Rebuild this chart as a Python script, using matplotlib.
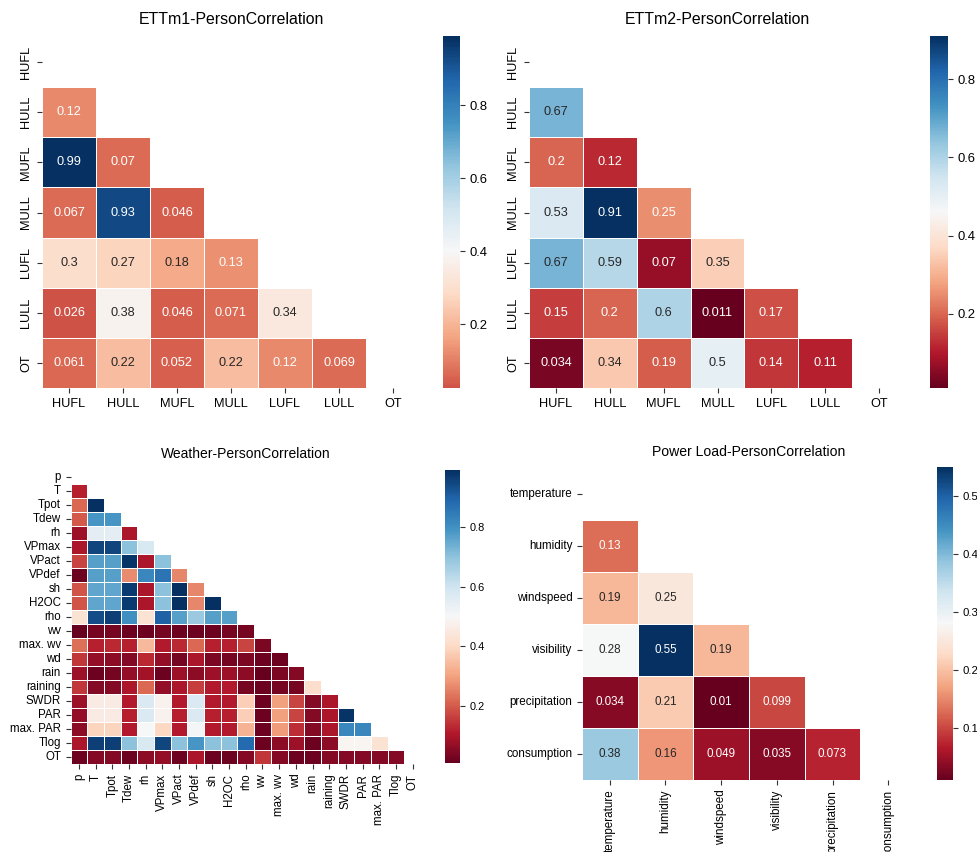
import numpy as np
import matplotlib
matplotlib.use("Agg")
import matplotlib.pyplot as plt
from matplotlib.ticker import MultipleLocator
import seaborn as sns

plt.rcParams['font.family'] = ['Liberation Sans', 'DejaVu Sans']

# ---------------- data (lower triangles of |Pearson r|) ----------------
ett_labels = ["HUFL", "HULL", "MUFL", "MULL", "LUFL", "LULL", "OT"]

ettm1_rows = [
    [0.12],
    [0.99, 0.07],
    [0.067, 0.93, 0.046],
    [0.3, 0.27, 0.18, 0.13],
    [0.026, 0.38, 0.046, 0.071, 0.34],
    [0.061, 0.22, 0.052, 0.22, 0.12, 0.069],
]

ettm2_rows = [
    [0.67],
    [0.2, 0.12],
    [0.53, 0.91, 0.25],
    [0.67, 0.59, 0.07, 0.35],
    [0.15, 0.2, 0.6, 0.011, 0.17],
    [0.034, 0.34, 0.19, 0.5, 0.14, 0.11],
]

weather_labels = ["p", "T", "Tpot", "Tdew", "rh", "VPmax", "VPact", "VPdef",
                  "sh", "H2OC", "rho", "wv", "max. wv", "wd", "rain", "raining",
                  "SWDR", "PAR", "max. PAR", "Tlog", "OT"]

weather_rows = [
    [0.12],
    [0.22, 0.99],
    [0.20, 0.79, 0.79],
    [0.08, 0.55, 0.55, 0.10],
    [0.10, 0.95, 0.95, 0.70, 0.58],
    [0.17, 0.77, 0.77, 0.98, 0.10, 0.70],
    [0.02, 0.77, 0.77, 0.27, 0.82, 0.86, 0.26],
    [0.19, 0.76, 0.76, 0.97, 0.10, 0.70, 0.99, 0.26],
    [0.19, 0.76, 0.76, 0.97, 0.10, 0.70, 0.99, 0.26, 0.99],
    [0.43, 0.94, 0.96, 0.80, 0.43, 0.90, 0.77, 0.68, 0.77, 0.77],
    [0.01, 0.03, 0.03, 0.02, 0.02, 0.03, 0.02, 0.02, 0.02, 0.03, 0.03],
    [0.23, 0.12, 0.13, 0.12, 0.34, 0.11, 0.13, 0.22, 0.12, 0.12, 0.17, 0.04],
    [0.15, 0.07, 0.06, 0.05, 0.13, 0.07, 0.03, 0.10, 0.04, 0.03, 0.04, 0.02, 0.02],
    [0.08, 0.02, 0.03, 0.07, 0.09, 0.02, 0.08, 0.06, 0.08, 0.08, 0.06, 0.01, 0.04, 0.05],
    [0.15, 0.05, 0.05, 0.10, 0.22, 0.07, 0.10, 0.16, 0.11, 0.11, 0.03, 0.02, 0.03, 0.03, 0.41],
    [0.08, 0.46, 0.46, 0.11, 0.57, 0.48, 0.11, 0.57, 0.11, 0.11, 0.38, 0.02, 0.30, 0.17, 0.05, 0.10],
    [0.07, 0.46, 0.46, 0.12, 0.57, 0.48, 0.12, 0.57, 0.12, 0.12, 0.38, 0.02, 0.30, 0.17, 0.05, 0.10, 0.98],
    [0.06, 0.39, 0.39, 0.11, 0.50, 0.40, 0.11, 0.51, 0.11, 0.11, 0.33, 0.02, 0.29, 0.14, 0.05, 0.10, 0.82, 0.82],
    [0.10, 0.96, 0.96, 0.70, 0.58, 0.95, 0.70, 0.79, 0.70, 0.70, 0.88, 0.02, 0.06, 0.08, 0.02, 0.06, 0.49, 0.49, 0.43],
    [0.02, 0.05, 0.05, 0.02, 0.06, 0.07, 0.02, 0.10, 0.02, 0.02, 0.05, 0.15, 0.05, 0.02, 0.02, 0.05, 0.05, 0.05, 0.05, 0.05],
]

load_labels = ["temperature", "humidity", "windspeed", "visibility",
               "precipitation", "consumption"]

load_rows = [
    [0.13],
    [0.19, 0.25],
    [0.28, 0.55, 0.19],
    [0.034, 0.21, 0.01, 0.099],
    [0.38, 0.16, 0.049, 0.035, 0.073],
]


def full_matrix(rows, n):
    m = np.zeros((n, n))
    for i, r in enumerate(rows, start=1):
        m[i, :i] = r
    m = m + m.T
    np.fill_diagonal(m, 1.0)
    return m


def draw(fig, ax_rect, cb_rect, rows, labels, title, center=None, annot=True,
         fs_tick=9.2, fs_title=11.4, fs_cb=9.4, ylab_rot=0, xlab_rot=0,
         cb_step=0.2):
    n = len(labels)
    corr = full_matrix(rows, n)
    mask = np.triu(np.ones_like(corr, dtype=bool))
    ax = fig.add_axes(ax_rect)
    cax = fig.add_axes(cb_rect)
    sns.heatmap(corr, mask=mask, cmap="RdBu", center=center, annot=annot,
                fmt=".2g", annot_kws={"size": fs_tick},
                linewidths=0.5, linecolor="white",
                xticklabels=labels, yticklabels=labels,
                ax=ax, cbar_ax=cax)
    ax.set_xticklabels(labels, rotation=xlab_rot, fontsize=fs_tick)
    ax.set_yticklabels(labels, rotation=ylab_rot, fontsize=fs_tick, va="center")
    ax.tick_params(axis="both", length=3.5, width=0.8, color="#333333")
    ax.set_title(title, fontsize=fs_title, pad=9)
    cax.yaxis.set_major_locator(MultipleLocator(cb_step))
    cax.tick_params(labelsize=fs_cb, length=3.5, width=0.8, color="#333333")
    return ax


W, H = 978, 852
fig = plt.figure(figsize=(W / 100, H / 100), dpi=100)


def rect(x0, y0, x1, y1):
    return [x0 / W, 1 - y1 / H, (x1 - x0) / W, (y1 - y0) / H]


draw(fig, rect(42, 37, 420, 388), rect(443, 36, 460, 388), ettm1_rows,
     ett_labels, "ETTm1-PersonCorrelation", center=0.4, ylab_rot=90)

draw(fig, rect(529, 37, 906, 388), rect(930, 36, 948, 388), ettm2_rows,
     ett_labels, "ETTm2-PersonCorrelation", ylab_rot=90)

draw(fig, rect(70.6, 470, 421, 764), rect(445, 470, 460, 763), weather_rows,
     weather_labels, "Weather-PersonCorrelation", annot=False,
     fs_tick=8.3, fs_title=10, fs_cb=7.9, xlab_rot=90)

draw(fig, rect(582, 468, 916, 780), rect(937, 467, 953, 780), load_rows,
     load_labels, "Power Load-PersonCorrelation",
     fs_tick=8.4, fs_title=10.1, fs_cb=8.2, xlab_rot=90, cb_step=0.1)

fig.savefig("out.png", dpi=100, facecolor="white")
